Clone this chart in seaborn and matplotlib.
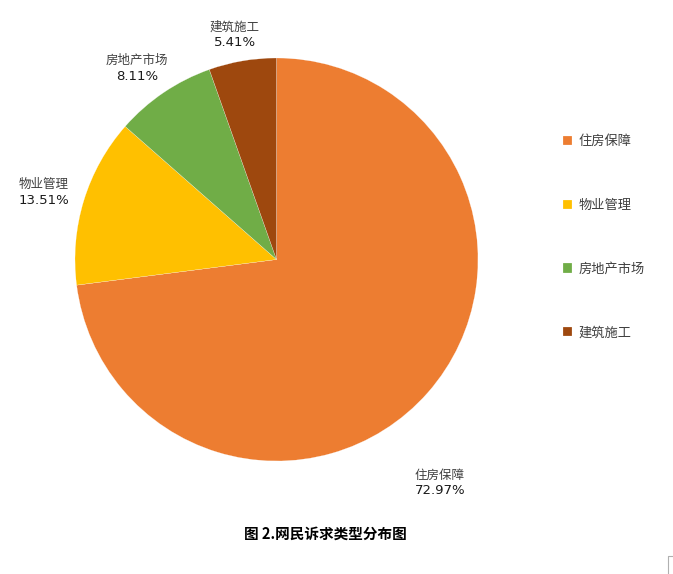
import seaborn as sns
import matplotlib.pyplot as plt

# 数据
categories = ["住房保障", "物业管理", "房地产市场", "建筑施工"]
shares = [72.97, 13.51, 8.11, 5.41]
colors = ["#ED7D31", "#FFC000", "#70AD47", "#9E480E"]
title = "图 2.网民诉求类型分布图"

sns.set_theme(style="white")
plt.rcParams['font.family'] = ['Noto Sans CJK SC', 'DejaVu Sans']

W, H = 673, 574
fig = plt.figure(figsize=(W / 100, H / 100), dpi=100)
ax = fig.add_axes([0, 0, 1, 1])

cx, cy, r = 276.5, H - 259.5, 201.5
wedges, _ = ax.pie(shares, colors=colors, startangle=90, counterclock=False,
                   center=(cx, cy), radius=r, frame=True,
                   wedgeprops=dict(edgecolor="white", linewidth=0.15))
ax.set_xlim(0, W)
ax.set_ylim(0, H)
ax.set_aspect("equal")
ax.axis("off")

# 数据标签(类别名 + 百分比)
label_pos = [(440, 475), (44, 184), (137, 60), (235, 27)]
for name, v, (x, y) in zip(categories, shares, label_pos):
    ax.text(x, H - y, name, ha="center", va="center", fontsize=9, color="#404040")
    ax.text(x, H - y - 16, f"{v:.2f}%", ha="center", va="center", fontsize=9.5,
            color="#1a1a1a", family="DejaVu Sans")

# 图例
leg = ax.legend(wedges, categories, loc="upper left", bbox_to_anchor=(563 / W, 1 - 135 / H),
                bbox_transform=fig.transFigure, frameon=False, fontsize=9.5,
                labelspacing=3.85, handlelength=0.7, handleheight=0.7,
                handletextpad=0.45, borderaxespad=0, borderpad=0)
for t in leg.get_texts():
    t.set_color("#404040")

# 标题
fig.text(325 / W, 1 - 534 / H, title, ha="center", va="center", fontsize=10.5,
         fontweight="bold", color="black")

# 右下角标记
ax.plot([668, 668, 673], [0, H - 556, H - 556], color="#b0b0b0", lw=0.8)

fig.savefig("out.png", dpi=100)
